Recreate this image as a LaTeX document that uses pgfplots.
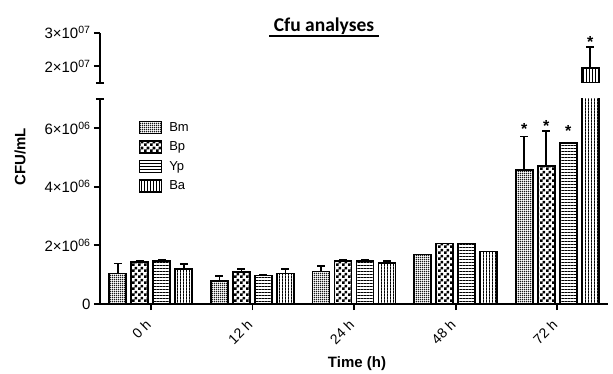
\documentclass[border=0pt]{standalone}
\usepackage{fontspec}
\setmainfont{Liberation Sans}
\newfontfamily\carlito{Carlito}
\usepackage{pgfplots}
\pgfplotsset{compat=1.18}
\usetikzlibrary{patterns,patterns.meta}

\pgfdeclarepattern{name=finemesh, type=uncolored,
  bottom left={\pgfpoint{0pt}{0pt}}, top right={\pgfpoint{2pt}{2pt}},
  tile size={\pgfpoint{2pt}{2pt}},
  code={\pgfpathrectangle{\pgfpointorigin}{\pgfpoint{2pt}{0.8pt}}%
        \pgfpathrectangle{\pgfpointorigin}{\pgfpoint{0.8pt}{2pt}}\pgfusepath{fill}}}
\pgfdeclarepattern{name=bigchecks, type=uncolored,
  bottom left={\pgfpoint{0pt}{0pt}}, top right={\pgfpoint{6pt}{6pt}},
  tile size={\pgfpoint{6pt}{6pt}},
  code={\pgfpathrectangle{\pgfpointorigin}{\pgfpoint{3pt}{3pt}}%
        \pgfpathrectangle{\pgfpoint{3pt}{3pt}}{\pgfpoint{3pt}{3pt}}\pgfusepath{fill}}}
\pgfdeclarepattern{name=hlines, type=uncolored,
  bottom left={\pgfpoint{0pt}{0pt}}, top right={\pgfpoint{3.3pt}{3.3pt}},
  tile size={\pgfpoint{3.3pt}{3.3pt}},
  code={\pgfpathrectangle{\pgfpointorigin}{\pgfpoint{3.3pt}{1pt}}\pgfusepath{fill}}}
\pgfdeclarepattern{name=vlines, type=uncolored,
  bottom left={\pgfpoint{0pt}{0pt}}, top right={\pgfpoint{3.3pt}{3.3pt}},
  tile size={\pgfpoint{3.3pt}{3.3pt}},
  code={\pgfpathrectangle{\pgfpointorigin}{\pgfpoint{1pt}{3.3pt}}\pgfusepath{fill}}}

\pgfplotsset{
  mybar/.style={draw=black, line width=1.8pt, pattern color=black,
    legend image code/.code={\draw[##1, line width=1.5pt] (0pt,-6pt) rectangle (22pt,6pt);},
    error bars/y dir=plus, error bars/y explicit,
    error bars/error bar style={line width=1.8pt, black, solid},
    error bars/error mark options={rotate=90, line width=1.8pt, mark size=4pt, black}},
  base/.style={scale only axis, width=508pt, xmin=-0.5, xmax=4.5,
    ybar, bar width=17pt, clip=true,
    tick style={line width=1.8pt, black}, major tick length=6pt, tick align=outside,
    axis line style={line width=1.8pt, -},
    scaled y ticks=false,
    tick label style={font=\fontsize{15}{15}\selectfont}},
}

\begin{document}
\begin{tikzpicture}
\useasboundingbox (0,0) rectangle (613pt,373pt);

% lower part of the broken axis
\begin{axis}[base, at={(100pt,69pt)}, anchor=south west, height=205.3pt,
  ymin=0, ymax=7e6,
  axis x line*=bottom, axis y line*=left,
  xtick={0,1,2,3,4}, xticklabels={0 h,12 h,24 h,48 h,72 h},
  xticklabel style={rotate=45, anchor=east, font=\fontsize{14}{14}\selectfont},
  xticklabel shift=10pt,
  ytick={0,2e6,4e6,6e6},
  yticklabels={0,2×10\textsuperscript{06},4×10\textsuperscript{06},6×10\textsuperscript{06}},
  extra y ticks={7e6}, extra y tick labels={},
  extra y tick style={tick align=center, major tick length=8pt},
  legend style={at={(0.07,0.905)}, anchor=north west, draw=none, fill=none,
    font=\fontsize{13}{13}\selectfont, row sep=5pt,
    /tikz/every odd column/.append style={column sep=5pt}},
  legend cell align=left,
]
\addplot[mybar, bar shift=-33pt, pattern=finemesh] coordinates {
  (0,1.04e6) +- (0,0.34e6) (1,0.78e6) +- (0,0.17e6) (2,1.11e6) +- (0,0.19e6)
  (3,1.69e6) +- (0,0.0) (4,4.58e6) +- (0,1.13e6)};
\addlegendentry{Bm}
\addplot[mybar, bar shift=-11pt, pattern=bigchecks] coordinates {
  (0,1.43e6) +- (0,0.04e6) (1,1.08e6) +- (0,0.11e6) (2,1.47e6) +- (0,0.03e6)
  (3,2.06e6) +- (0,0.0) (4,4.70e6) +- (0,1.19e6)};
\addlegendentry{Bp}
\addplot[mybar, bar shift=11pt, pattern=hlines] coordinates {
  (0,1.46e6) +- (0,0.03e6) (1,0.97e6) +- (0,0.02e6) (2,1.47e6) +- (0,0.02e6)
  (3,2.06e6) +- (0,0.0) (4,5.49e6) +- (0,0.02e6)};
\addlegendentry{Yp}
\addplot[mybar, bar shift=33pt, pattern=vlines] coordinates {
  (0,1.18e6) +- (0,0.18e6) (1,1.04e6) +- (0,0.15e6) (2,1.39e6) +- (0,0.07e6)
  (3,1.79e6) +- (0,0.0) (4,1.95e7) +- (0,0.61e7)};
\addlegendentry{Ba}
\node[font=\bfseries\fontsize{16}{16}\selectfont] at ([xshift=-33pt]axis cs:4,5.97e6) {*};
\node[font=\bfseries\fontsize{16}{16}\selectfont] at ([xshift=-11pt]axis cs:4,6.07e6) {*};
\node[font=\bfseries\fontsize{16}{16}\selectfont] at ([xshift=11pt]axis cs:4,5.90e6) {*};
\end{axis}

% upper part of the broken axis
\begin{axis}[base, at={(100pt,290.3pt)}, anchor=south west, height=50pt,
  ymin=1.5e7, ymax=3e7,
  axis x line=none, axis y line*=left,
  ytick={2e7,3e7},
  yticklabels={2×10\textsuperscript{07},3×10\textsuperscript{07}},
  extra y ticks={1.5e7}, extra y tick labels={},
  extra y tick style={tick align=center, major tick length=8pt},
]
\addplot[mybar, bar shift=33pt, pattern=vlines] coordinates {
  (4,1.95e7) +- (0,0.61e7)};
\node[font=\bfseries\fontsize{16}{16}\selectfont] at ([xshift=33pt]axis cs:4,2.71e7) {*};
\end{axis}

\node[rotate=90, font=\bfseries\fontsize{15}{15}\selectfont] at (20pt,216pt) {CFU/mL};
\node[font=\bfseries\fontsize{15}{15}\selectfont] at (357pt,9pt) {Time (h)};
\node[font=\carlito\bfseries\fontsize{19.5}{19.5}\selectfont] at (324pt,347pt) {Cfu analyses};
\draw[line width=1.8pt] (269pt,337pt) -- (379pt,337pt);
\end{tikzpicture}
\end{document}
